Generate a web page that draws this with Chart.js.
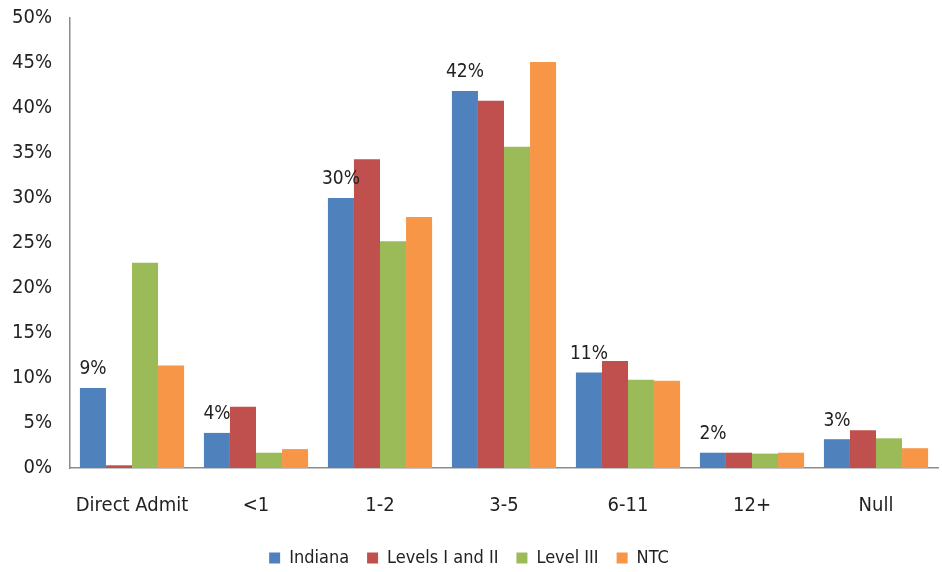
<!DOCTYPE html>
<html>
<head>
<meta charset="utf-8">
<script src="https://cdn.jsdelivr.net/npm/chart.js@4/dist/chart.umd.min.js"></script>
<style>
  html, body { margin: 0; padding: 0; background: #fff; }
  #wrap { width: 942px; height: 572px; }
</style>
</head>
<body>
<div id="wrap"><canvas id="myChart"></canvas></div>
<script>
// data (percent)
var categories = ["Direct Admit", "<1", "1-2", "3-5", "6-11", "12+", "Null"];
var indiana    = [8.9, 3.9, 30.0, 41.9, 10.6, 1.7, 3.2];
var levels12   = [0.3, 6.8, 34.3, 40.8, 11.9, 1.7, 4.2];
var level3     = [22.8, 1.7, 25.2, 35.7, 9.8, 1.6, 3.3];
var ntc        = [11.4, 2.1, 27.9, 45.1, 9.7, 1.7, 2.2];
var indianaLabels = ["9%", "4%", "30%", "42%", "11%", "2%", "3%"];

var FONT = "'Liberation Sans Narrow', 'Arial Narrow', 'DejaVu Sans Condensed', sans-serif";

// labels over the Indiana bars only
var indianaLabelPlugin = {
	id: 'indianaLabels',
	afterDatasetsDraw: function (chart) {
		var ctx = chart.ctx;
		var meta = chart.getDatasetMeta(0);
		ctx.save();
		ctx.font = '19px ' + FONT;
		ctx.fillStyle = '#222';
		ctx.textAlign = 'center';
		ctx.textBaseline = 'bottom';
		meta.data.forEach(function (bar, i) {
			ctx.fillText(indianaLabels[i], bar.x, bar.y - 9);
		});
		ctx.restore();
	}
};

var ctx = document.getElementById('myChart').getContext('2d');
var chart = new Chart(ctx, {
	type: 'bar',
	data: {
		labels: categories,
		datasets: [
			{ label: "Indiana", data: indiana, backgroundColor: '#4F81BD' },
			{ label: "Levels I and II", data: levels12, backgroundColor: '#C0504D' },
			{ label: "Level III", data: level3, backgroundColor: '#9BBB59' },
			{ label: "NTC", data: ntc, backgroundColor: '#F79646' }
		]
	},
	options: {
		responsive: true,
		maintainAspectRatio: false,
		animation: false,
		layout: { padding: { top: 18, right: 4, left: 0, bottom: -5 } },
		datasets: { bar: { categoryPercentage: 0.84, barPercentage: 1.0 } },
		plugins: {
			legend: {
				position: 'bottom',
				labels: {
					font: { family: FONT, size: 18 },
					color: '#222',
					boxWidth: 11,
					boxHeight: 11,
					padding: 18
				}
			},
			tooltip: { enabled: false }
		},
		scales: {
			x: {
				grid: { display: false, drawTicks: false },
				border: { color: '#8c8c8c', width: 1.5 },
				ticks: { font: { family: FONT, size: 20 }, color: '#222', padding: 26 },
				afterFit: function (s) { s.height = 63; }
			},
			y: {
				min: 0,
				max: 50,
				grid: { display: false, drawTicks: false },
				border: { color: '#8c8c8c', width: 1.5 },
				ticks: {
					stepSize: 5,
					font: { family: FONT, size: 20 },
					color: '#222',
					padding: 18,
					callback: function (v) { return v + '%'; }
				},
				afterFit: function (s) { s.width = 70; s.paddingTop = 0; s.paddingBottom = 0; }
			}
		}
	},
	plugins: [indianaLabelPlugin]
});
</script>
</body>
</html>
